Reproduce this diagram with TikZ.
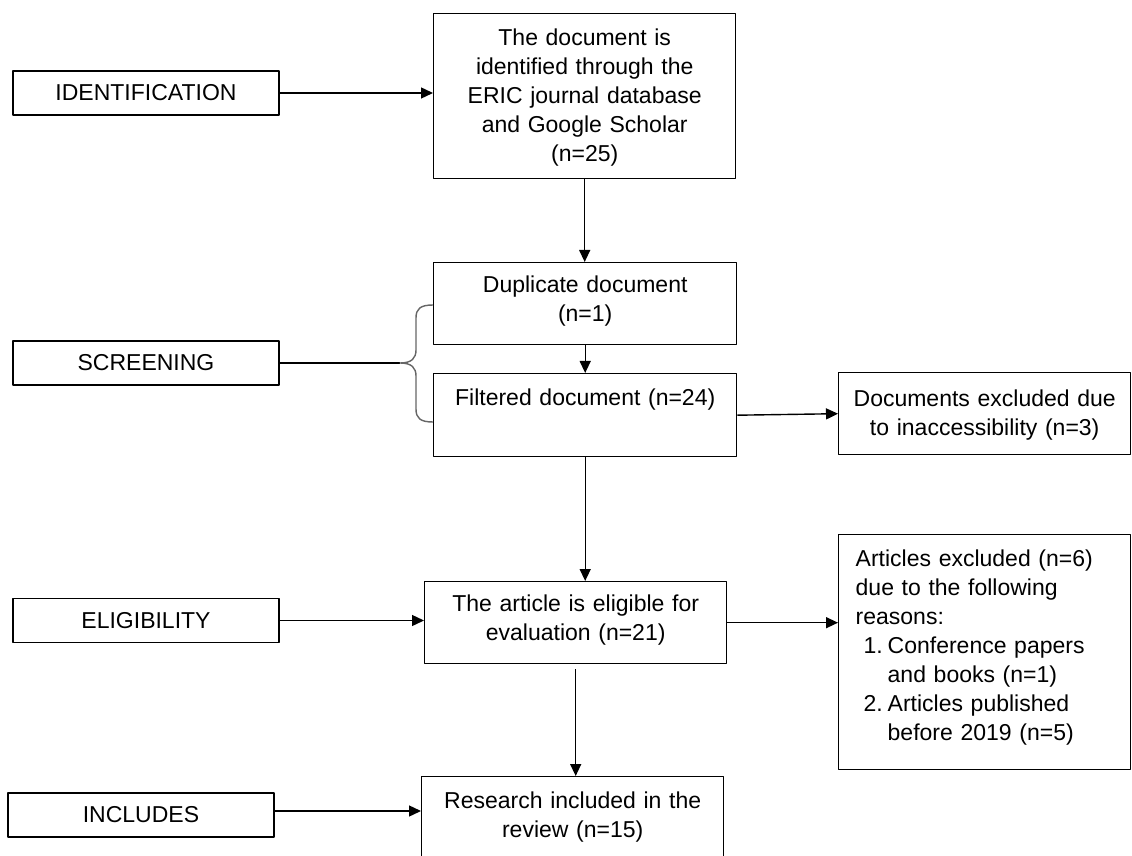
\documentclass[tikz,border=0pt]{standalone}
\usepackage{fontspec}
\setmainfont{Liberation Sans}
\usetikzlibrary{arrows.meta}
\tikzset{
  stage/.style={draw, line width=0.7pt, minimum width=133pt, minimum height=22pt, inner sep=0pt},
  stepbox/.style={draw, line width=0.7pt, anchor=north west, align=center, inner xsep=4pt, inner ysep=0pt},
}
\begin{document}
\begin{tikzpicture}[x=0.5pt, y=-0.5pt, >={Triangle[length=6pt,width=5.5pt]}, font=\fontsize{11.5}{14.5}\selectfont, line join=round]
\useasboundingbox (0,0) rectangle (1132,856);
% stages on the left
\node[stage] (identL) at (146,93) {IDENTIFICATION};
\node[stage] (screenL) at (146,363) {SCREENING};
\node[stage] (eligL) at (146,620.5) {ELIGIBILITY};
\node[stage] (inclL) at (141,815) {INCLUDES};
% main column
\node[stepbox, text width=143pt, text height=16pt, text depth=66.5pt] (top) at (433,13)
  {The document is\\ identified through the\\ ERIC journal database\\ and Google Scholar\\ (n=25)};
\node[stepbox, text width=143.5pt, text height=15pt, text depth=26pt] (dup) at (433,262)
  {Duplicate document\\ (n=1)};
\node[stepbox, text width=143.5pt, text height=16pt, text depth=25.5pt] (filt) at (433,373)
  {Filtered document (n=24)};
\node[stepbox, text width=143pt, text height=15pt, text depth=26pt] (elig) at (424,581)
  {The article is eligible for\\ evaluation (n=21)};
\node[stepbox, text width=143pt, text height=16pt, text depth=29pt] (research) at (421,776)
  {Research included in the\\ review (n=15)};
% excluded
\node[stepbox, text width=138pt, text height=17pt, text depth=24pt] (docex) at (838,372)
  {Documents excluded due\\ to inaccessibility (n=3)};
\node[stepbox, align=left, inner xsep=8.5pt, text width=129pt, text height=16pt, text depth=101.5pt] (artex) at (838,534)
  {Articles excluded (n=6)\\ due to the following\\ reasons:\\
   \hspace*{4pt}\makebox[12pt][l]{1.}Conference papers\\ \hspace*{16pt}and books (n=1)\\
   \hspace*{4pt}\makebox[12pt][l]{2.}Articles published\\ \hspace*{16pt}before 2019 (n=5)};
% arrows
\draw[->, line width=0.7pt] (identL) -- (identL -| top.west);
\draw[->, line width=0.7pt] (top.south) -- (top.south |- dup.north);
\draw[->, line width=0.7pt] (dup.south) -- (dup.south |- filt.north);
\draw[->, line width=0.7pt] (filt.east) -- (docex.west);
\draw[->, line width=0.7pt] (filt.south) -- (filt.south |- elig.north);
\draw[->, line width=0.7pt] (eligL) -- (eligL -| elig.west);
\draw[->, line width=0.7pt] (elig.east) -- (elig.east -| artex.west);
\draw[->, line width=0.7pt, shorten <=2.5pt] (elig.south) -- (elig.south |- research.north);
\draw[->, line width=0.7pt] ([yshift=2pt]inclL.east) -- ([yshift=2pt]inclL.east -| research.west);
% brace
\coordinate (tip) at (400,363);
\draw[line width=0.7pt] (screenL) -- (tip);
\draw[line width=0.7pt, gray!80!black] (433,305) .. controls (420,305) and (416,309) .. (416,318) -- (416,350)
  .. controls (416,358) and (412,363) .. (tip) .. controls (412,363) and (416,368) .. (416,376) -- (416,409)
  .. controls (416,418) and (420,422) .. (433,422);
\end{tikzpicture}
\end{document}
